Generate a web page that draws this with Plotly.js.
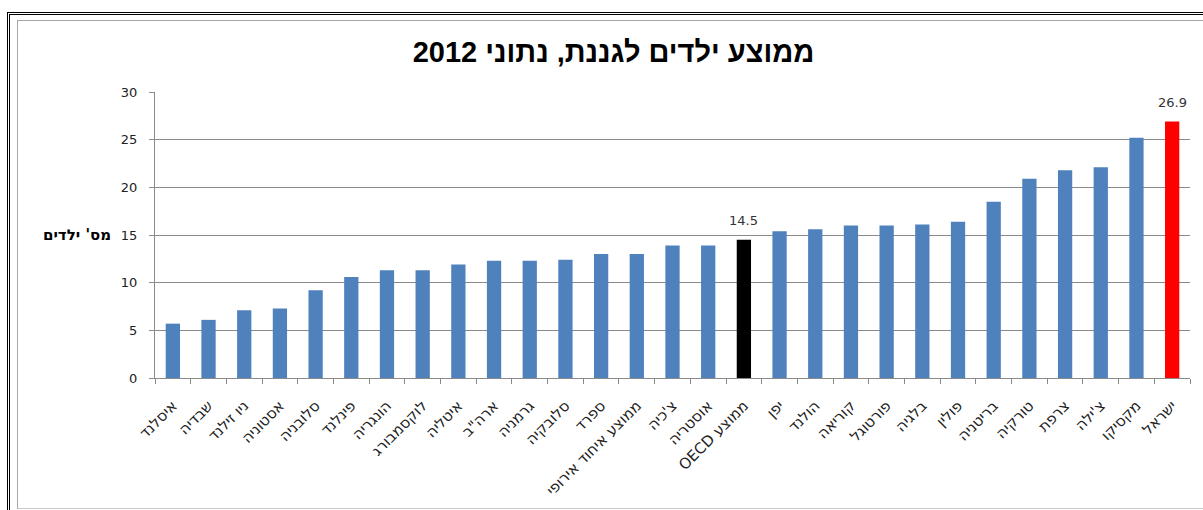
<!DOCTYPE html>
<html>
<head>
<meta charset="utf-8">
<script src="https://cdn.plot.ly/plotly-3.0.1.min.js"></script>
<style>
  html, body { margin: 0; padding: 0; background: #ffffff; width: 1203px; height: 510px; overflow: hidden; }
  #outer { position: absolute; left: 7px; top: 12px; width: 1300px; height: 600px; border-top: 3px double #000; border-left: 3px double #000; }
  #inner { position: absolute; left: 17px; top: 20px; width: 1300px; height: 487px; border-top: 1px solid #a6a6a6; border-left: 1px solid #a6a6a6; border-bottom: 1px solid #c8c8c8; }
  #chart { position: absolute; left: 0; top: 0; width: 1203px; height: 510px; }
</style>
</head>
<body>
<div id="outer"></div>
<div id="inner"></div>
<div id="chart"></div>
<script>
const categories = [
  "איסלנד", "שבדיה", "ניו זילנד", "אסטוניה", "סלובניה", "פינלנד", "הונגריה",
  "לוקסמבורג", "איטליה", "ארה\"ב", "גרמניה", "סלובקיה", "ספרד",
  "ממוצע איחוד אירופי", "צ'כיה", "אוסטריה", "ממוצע OECD", "יפן", "הולנד",
  "קוריאה", "פורטוגל", "בלגיה", "פולין", "בריטניה", "טורקיה", "צרפת",
  "צ'ילה", "מקסיקו", "ישראל"
];
const values = [
  5.7, 6.1, 7.1, 7.3, 9.2, 10.6, 11.3,
  11.3, 11.9, 12.3, 12.3, 12.4, 13.0,
  13.0, 13.9, 13.9, 14.5, 15.4, 15.6,
  16.0, 16.0, 16.1, 16.4, 18.5, 20.9, 21.8,
  22.1, 25.2, 26.9
];
const highlighted = ["ממוצע OECD", "ישראל"];
const chartTitle = "ממוצע ילדים לגננת, נתוני 2012";
const yTitle = "מס' ילדים";

const highlightColor = { "ממוצע OECD": "#000000", "ישראל": "#FF0000" };
const baseColor = "#4F81BD";
const colors = categories.map(c => highlightColor[c] || baseColor);
const rtl = s => "\u202B" + s + "\u202C";

const gray = "#8a8a8a";
const trace = {
  type: "bar",
  x: categories,
  y: values,
  marker: { color: colors, line: { width: 0 } },
  hoverinfo: "skip"
};

const valueNotes = categories
  .map((c, i) => ({ c, v: values[i] }))
  .filter(d => highlighted.includes(d.c))
  .map(d => ({
    x: d.c, y: d.v, xref: "x", yref: "y",
    text: d.v.toFixed(1),
    showarrow: false, yanchor: "bottom", yshift: 10,
    font: { family: "DejaVu Sans", size: 13, color: "#333333" }
  }));

const layout = {
  width: 1203, height: 510, autosize: false,
  margin: { l: 155, r: 13, t: 92, b: 132, pad: 0 },
  paper_bgcolor: "rgba(0,0,0,0)",
  plot_bgcolor: "rgba(0,0,0,0)",
  bargap: 0.6,
  showlegend: false,
  title: {
    text: rtl(chartTitle),
    xref: "container", x: 0.51, xanchor: "center",
    yref: "container", y: 1 - 52 / 510, yanchor: "middle",
    font: { family: "Liberation Sans", size: 29, color: "#000000", weight: "bold" }
  },
  xaxis: {
    type: "category",
    tickvals: categories,
    ticktext: categories.map(rtl),
    tickson: "boundaries",
    ticks: "outside", ticklen: 5, tickcolor: gray, tickwidth: 1,
    ticklabelstandoff: 12,
    showline: true, linecolor: gray, linewidth: 1,
    showgrid: false, zeroline: false,
    tickangle: -45,
    tickfont: { family: "DejaVu Sans", size: 15, color: "#222222" },
    fixedrange: true
  },
  yaxis: {
    range: [0, 30], tick0: 0, dtick: 5,
    ticks: "outside", ticklen: 5, tickcolor: gray, tickwidth: 1,
    ticklabelstandoff: 9,
    showline: true, linecolor: gray, linewidth: 1,
    showgrid: true, gridcolor: gray, gridwidth: 1,
    zeroline: false,
    tickfont: { family: "DejaVu Sans", size: 13, color: "#222222" },
    fixedrange: true
  },
  annotations: valueNotes.concat([{
    text: rtl(yTitle),
    xref: "paper", x: -42 / 1035, xanchor: "right",
    yref: "y", y: 15, yanchor: "middle",
    showarrow: false,
    font: { family: "DejaVu Sans", size: 15, color: "#000000", weight: "bold" }
  }])
};

Plotly.newPlot("chart", [trace], layout, { displayModeBar: false, staticPlot: true });
</script>
</body>
</html>
